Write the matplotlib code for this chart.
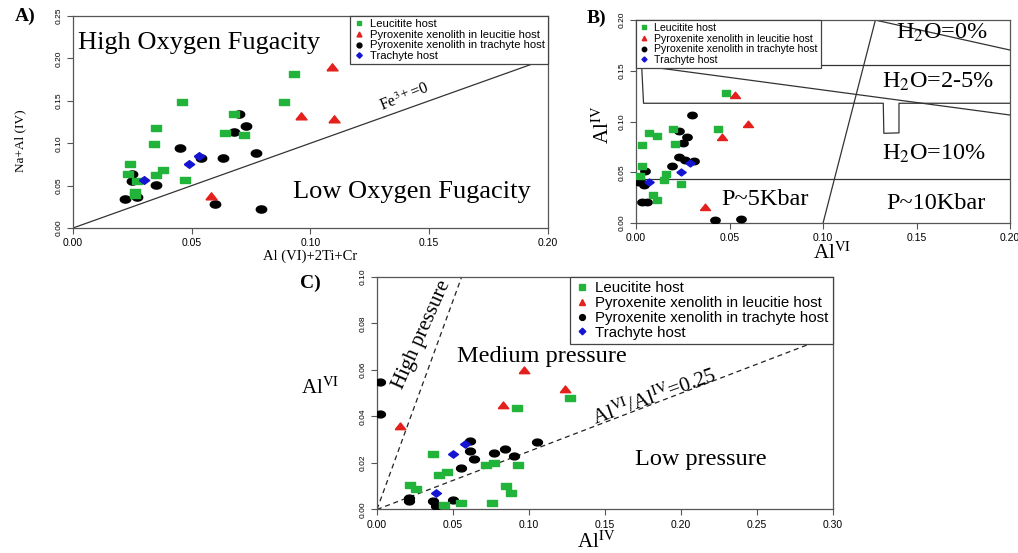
import numpy as np
import matplotlib.pyplot as plt
from matplotlib.lines import Line2D
from matplotlib.ticker import FormatStrFormatter, MultipleLocator

plt.rcParams['mathtext.fontset'] = 'stix'

# ---- datos ----
# Panel A: Al(VI)+2Ti+Cr vs Na+Al(IV)
a_leu_x = [0.024, 0.023, 0.026, 0.026, 0.035, 0.034, 0.035, 0.038, 0.046, 0.047, 0.064, 0.068, 0.072, 0.089, 0.093, 0.027]
a_leu_y = [0.075, 0.064, 0.042, 0.039, 0.118, 0.099, 0.062, 0.068, 0.149, 0.057, 0.112, 0.134, 0.110, 0.149, 0.181, 0.055]
a_xen_x = [0.058, 0.096, 0.109, 0.110]
a_xen_y = [0.038, 0.132, 0.190, 0.129]
a_tra_x = [0.022, 0.027, 0.025, 0.025, 0.035, 0.045, 0.054, 0.063, 0.068, 0.070, 0.073, 0.077, 0.060, 0.079]
a_tra_y = [0.034, 0.036, 0.064, 0.055, 0.051, 0.094, 0.082, 0.083, 0.113, 0.134, 0.120, 0.089, 0.028, 0.022]
a_hos_x = [0.030, 0.049, 0.053]
a_hos_y = [0.057, 0.076, 0.085]

# Panel B: Al(VI) vs Al(IV)
b_leu_x = [0.048, 0.044, 0.020, 0.021, 0.007, 0.011, 0.003, 0.003, 0.002, 0.016, 0.015, 0.024, 0.009, 0.011]
b_leu_y = [0.128, 0.093, 0.093, 0.078, 0.089, 0.086, 0.077, 0.056, 0.046, 0.048, 0.042, 0.038, 0.028, 0.023]
b_xen_x = [0.037, 0.046, 0.060, 0.053]
b_xen_y = [0.016, 0.085, 0.098, 0.126]
b_tra_x = [0.030, 0.023, 0.027, 0.025, 0.023, 0.019, 0.026, 0.031, 0.005, 0.002, 0.004, 0.003, 0.006, 0.042, 0.056, 0.001]
b_tra_y = [0.106, 0.091, 0.085, 0.079, 0.065, 0.056, 0.062, 0.061, 0.051, 0.041, 0.037, 0.021, 0.021, 0.003, 0.004, 0.040]
b_hos_x = [0.007, 0.024, 0.029]
b_hos_y = [0.040, 0.050, 0.059]

# Panel C: Al(IV) vs Al(VI)
c_leu_x = [0.037, 0.022, 0.026, 0.041, 0.046, 0.044, 0.055, 0.072, 0.077, 0.093, 0.085, 0.088, 0.076, 0.092, 0.127]
c_leu_y = [0.024, 0.0105, 0.009, 0.015, 0.016, 0.002, 0.0026, 0.019, 0.020, 0.019, 0.010, 0.007, 0.003, 0.0435, 0.048]
c_xen_x = [0.015, 0.083, 0.097, 0.124]
c_xen_y = [0.036, 0.045, 0.060, 0.052]
c_tra_x = [0.002, 0.002, 0.021, 0.021, 0.037, 0.039, 0.050, 0.055, 0.061, 0.061, 0.064, 0.077, 0.084, 0.090, 0.105]
c_tra_y = [0.055, 0.041, 0.005, 0.0037, 0.0036, 0.0014, 0.004, 0.018, 0.0296, 0.025, 0.0216, 0.0244, 0.026, 0.023, 0.029]
c_hos_x = [0.039, 0.050, 0.058]
c_hos_y = [0.007, 0.024, 0.028]

etiquetas = ['Leucitite host', 'Pyroxenite xenolith in leucitie host',
             'Pyroxenite xenolith in trachyte host', 'Trachyte host']

# ---- estilos ----
VERDE, ROJO, NEGRO, AZUL = '#22b33a', '#e3201b', '#000000', '#1414d2'
SERIF = 'Liberation Serif'
SANS = 'Liberation Sans'

t = np.linspace(0, 2 * np.pi, 40)
m_circ = list(zip(1.45 * np.cos(t), np.sin(t)))
m_rect = [(-1.5, -1), (1.5, -1), (1.5, 1), (-1.5, 1), (-1.5, -1)]
m_tri = [(-1.5, -0.9), (1.5, -0.9), (0, 1.0), (-1.5, -0.9)]
m_diam = [(-1.35, 0), (0, 1), (1.35, 0), (0, -1), (-1.35, 0)]


def puntos(ax, datos, esc=1.0):
    (lx, ly), (xx, xy), (tx, ty), (hx, hy) = datos
    ax.plot(tx, ty, ls='none', marker=m_circ, ms=7.5 * esc, color=NEGRO, zorder=3)
    ax.plot(lx, ly, ls='none', marker=m_rect, ms=7 * esc, color=VERDE, zorder=4)
    ax.plot(hx, hy, ls='none', marker=m_diam, ms=7.5 * esc, color=AZUL, zorder=5)
    ax.plot(xx, xy, ls='none', marker=m_tri, ms=8 * esc, color=ROJO, zorder=5)


def leyenda(ax, loc, size, ms):
    h = [Line2D([], [], ls='none', marker='s', ms=ms, color=VERDE),
         Line2D([], [], ls='none', marker='^', ms=ms, color=ROJO),
         Line2D([], [], ls='none', marker='o', ms=ms, color=NEGRO),
         Line2D([], [], ls='none', marker='D', ms=ms * 0.8, color=AZUL)]
    lg = ax.legend(h, etiquetas, loc=loc, borderaxespad=0, fancybox=False,
                   framealpha=1, edgecolor='#444444', prop={'family': SANS, 'size': size},
                   handlelength=1.0, handletextpad=0.4, labelspacing=0.05,
                   borderpad=0.3)
    lg.get_frame().set_linewidth(0.9)
    lg.set_zorder(10)
    return lg


def ejes(ax, xmax, ymax, dx, dy):
    ax.set_xlim(0, xmax)
    ax.set_ylim(0, ymax)
    ax.xaxis.set_major_locator(MultipleLocator(dx))
    ax.yaxis.set_major_locator(MultipleLocator(dy))
    ax.xaxis.set_major_formatter(FormatStrFormatter('%.2f'))
    ax.yaxis.set_major_formatter(FormatStrFormatter('%.2f'))
    ax.tick_params(direction='out', length=4, width=0.8, color='#555555', labelsize=7.5)
    ax.tick_params(axis='y', labelsize=6)
    for lab in ax.get_xticklabels():
        lab.set_family(SANS)
    for lab in ax.get_yticklabels():
        lab.set_family(SANS)
        lab.set_rotation(90)
        lab.set_va('center')
    for s in ax.spines.values():
        s.set_color('#555555')
        s.set_linewidth(0.9)


fig = plt.figure(figsize=(10.18, 5.53), dpi=100)

# ---- Panel A ----
axA = fig.add_axes([0.0717, 0.5877, 0.4666, 0.3834])
ejes(axA, 0.20, 0.25, 0.05, 0.05)
axA.plot([0, 0.2], [0, 0.2], color='#333333', lw=0.9, zorder=2)
puntos(axA, [(a_leu_x, a_leu_y), (a_xen_x, a_xen_y), (a_tra_x, a_tra_y), (a_hos_x, a_hos_y)])
leyenda(axA, 'upper right', 8.1, 3.5)
axA.text(0.0021, 0.218, 'High Oxygen Fugacity', family=SERIF, size=19, va='center', ha='left')
axA.text(0.1425, 0.0425, 'Low Oxygen Fugacity', family=SERIF, size=19, va='center', ha='center')
axA.text(0.1395, 0.1545, r'Fe$^{3+}$=0', family=SERIF, size=11.5, va='center', ha='center',
         rotation=22, rotation_mode='anchor')
fig.text(0.3045, 0.537, 'Al (VI)+2Ti+Cr', family=SERIF, size=10.5, ha='center', va='center')
fig.text(0.020, 0.745, 'Na+Al (IV)', family=SERIF, size=9.5, ha='center', va='center', rotation=90)
fig.text(0.025, 0.971, 'A)', family=SERIF, size=14, weight='bold', ha='center', va='center')

# ---- Panel B ----
axB = fig.add_axes([0.6248, 0.5967, 0.3674, 0.3671])
ejes(axB, 0.20, 0.20, 0.05, 0.05)
lc = dict(color='#333333', lw=0.9, zorder=2)
axB.plot([0.100, 0.128], [0.0, 0.2], **lc)
axB.plot([0.0, 0.2], [0.1555, 0.1555], **lc)
axB.plot([0.1278, 0.2], [0.2, 0.1704], **lc)
axB.plot([0.003, 0.2], [0.155, 0.1064], **lc)
axB.plot([0.003, 0.004, 0.1322, 0.1325, 0.1406, 0.1406, 0.2],
         [0.155, 0.118, 0.118, 0.0884, 0.0888, 0.118, 0.118], **lc)
axB.plot([0.0, 0.2], [0.0437, 0.0437], **lc)
puntos(axB, [(b_leu_x, b_leu_y), (b_xen_x, b_xen_y), (b_tra_x, b_tra_y), (b_hos_x, b_hos_y)], 0.9)
leyenda(axB, 'upper left', 7.6, 3.2)
tb = dict(family=SERIF, size=17.5, ha='center', va='center', zorder=11)
axB.text(0.1636, 0.1872, r'H$_2$O=0%', **tb)
axB.text(0.1615, 0.1389, r'H$_2$O=2-5%', **tb)
axB.text(0.1594, 0.0680, r'H$_2$O=10%', **tb)
axB.text(0.1604, 0.0197, 'P~10Kbar', **tb)
axB.text(0.0690, 0.0236, 'P~5Kbar', **tb)
fig.text(0.8173, 0.543, r'Al$^{\mathrm{VI}}$', family=SERIF, size=15, ha='center', va='center')
fig.text(0.5925, 0.774, r'Al$^{\mathrm{IV}}$', family=SERIF, size=15, ha='center', va='center', rotation=90)
fig.text(0.5855, 0.966, 'B)', family=SERIF, size=14, weight='bold', ha='center', va='center')

# ---- Panel C ----
axC = fig.add_axes([0.3703, 0.0787, 0.4479, 0.4204])
ejes(axC, 0.30, 0.10, 0.05, 0.02)
axC.plot([0, 0.0557], [0, 0.1], color='#222222', lw=0.9, ls=(0, (4, 3)), zorder=2)
axC.plot([0, 0.3], [0, 0.075], color='#222222', lw=0.9, ls=(0, (4, 3)), zorder=2)
puntos(axC, [(c_leu_x, c_leu_y), (c_xen_x, c_xen_y), (c_tra_x, c_tra_y), (c_hos_x, c_hos_y)], 0.95)
leyenda(axC, 'upper right', 10.8, 4.2)
tc = dict(family=SERIF, size=17.5, ha='center', va='center')
axC.text(0.1086, 0.0656, 'Medium pressure', **tc)
axC.text(0.2132, 0.0213, 'Low pressure', **tc)
axC.text(0.0294, 0.0751, 'High pressure', family=SERIF, size=15, ha='center', va='center',
         rotation=66, rotation_mode='anchor')
axC.text(0.1829, 0.0484, r'Al$^{\mathrm{VI}}$/Al$^{\mathrm{IV}}$=0.25', family=SERIF, size=15,
         ha='center', va='center', rotation=20, rotation_mode='anchor')
fig.text(0.5855, 0.020, r'Al$^{\mathrm{IV}}$', family=SERIF, size=15, ha='center', va='center')
fig.text(0.3143, 0.298, r'Al$^{\mathrm{VI}}$', family=SERIF, size=15, ha='center', va='center')
fig.text(0.3045, 0.488, 'C)', family=SERIF, size=14, weight='bold', ha='center', va='center')

fig.savefig('out.png', dpi=100)
